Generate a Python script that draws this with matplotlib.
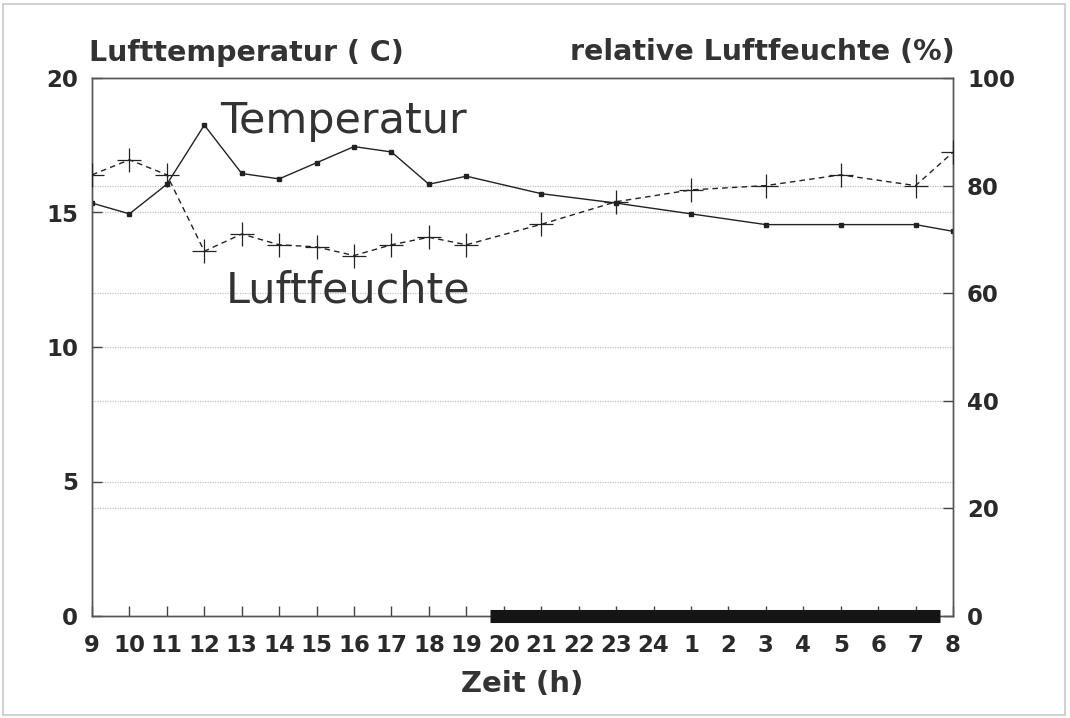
import matplotlib
matplotlib.use("Agg")
import matplotlib.pyplot as plt
from matplotlib.patches import Rectangle

plt.rcParams['font.family'] = ['DejaVu Sans']

# Stunden (Beschriftung der x-Achse)
hour_labels = ['9', '10', '11', '12', '13', '14', '15', '16', '17', '18', '19', '20',
               '21', '22', '23', '24', '1', '2', '3', '4', '5', '6', '7', '8']

# Messzeitpunkte (Index in hour_labels)
meas_idx = [0, 1, 2, 3, 4, 5, 6, 7, 8, 9, 10, 12, 14, 16, 18, 20, 22, 23]

# Lufttemperatur (C)
temperatur = [15.35, 14.95, 16.05, 18.25, 16.45, 16.25, 16.85, 17.45, 17.25, 16.05,
              16.35, 15.7, 15.35, 14.95, 14.55, 14.55, 14.55, 14.3]

# relative Luftfeuchte (%)
feuchte = [82.0, 84.8, 82.0, 67.8, 71.0, 69.0, 68.6, 67.0, 69.0, 70.4,
           69.0, 72.8, 77.0, 79.2, 80.0, 82.0, 80.0, 86.2]

# Nacht (schwarzer Balken), in Stunden-Index
night = (10.62, 22.65)

fig = plt.figure(figsize=(10.70, 7.18), dpi=100)
ax = fig.add_axes([92 / 1070, 1 - 616 / 718, (953 - 92) / 1070, (616 - 78) / 718])
ax2 = ax.twinx()

# Rahmen um die ganze Grafik
fig.patches.append(Rectangle((3 / 1070, 3 / 718), 1 - 8 / 1070, 1 - 7 / 718,
                             transform=fig.transFigure, fill=False,
                             edgecolor='#c8c8c8', lw=1.2))

# Hilfslinien
for g in [4, 5, 8, 10, 12, 15, 16]:
    ax.axhline(g, color='#c0c0c0', lw=0.9, ls=(0, (1, 1)), zorder=0)

ax.plot(meas_idx, temperatur, color='#222222', lw=1.0, marker='s', ms=3.5,
        zorder=3)
ax2.plot(meas_idx, feuchte, color='#222222', lw=1.0, ls=(0, (4, 3)),
         marker='+', ms=17, mew=0.9, zorder=3)

# Balken auf ax2, damit er über der Achsenlinie liegt
ax2.plot(night, [0, 0], color='#151515', lw=9.4, solid_capstyle='butt',
         zorder=5, clip_on=False)

ax.set_xlim(0, 23)
ax.set_ylim(0, 20)
ax2.set_ylim(0, 100)

ax.set_xticks(range(len(hour_labels)))
ax.set_xticklabels(hour_labels)
ax.set_yticks([0, 5, 10, 15, 20])
ax2.set_yticks([0, 20, 40, 60, 80, 100])

for a in (ax, ax2):
    for s in a.spines.values():
        s.set_color('#555555')
        s.set_linewidth(1.0)
ax.tick_params(axis='both', direction='in', length=7, width=1.0, color='#444444',
               labelsize=16.5, labelcolor='#2a2a2a')
ax.tick_params(axis='x', pad=13)
ax.tick_params(axis='y', pad=10)
ax2.tick_params(axis='y', direction='in', length=7, width=1.0, color='#444444',
                labelsize=16.5, labelcolor='#2a2a2a', pad=10)
for lab in ax.get_xticklabels() + ax.get_yticklabels() + ax2.get_yticklabels():
    lab.set_fontweight('bold')

ax.text(-0.08, 20.65, 'Lufttemperatur ( C)', fontsize=20.5, fontweight='bold',
        color='#333333', ha='left', va='baseline')
ax2.text(23.05, 103.3, 'relative Luftfeuchte (%)', fontsize=20.5,
         fontweight='bold', color='#333333', ha='right', va='baseline')

ax.text(3.42, 17.95, 'Temperatur', fontsize=31, color='#333333',
        ha='left', va='baseline')
ax.text(3.58, 11.67, 'Luftfeuchte', fontsize=31, color='#333333',
        ha='left', va='baseline')

ax.set_xlabel('Zeit (h)', fontsize=21, fontweight='bold', color='#333333',
              labelpad=9)

fig.savefig('out.png', dpi=100)
